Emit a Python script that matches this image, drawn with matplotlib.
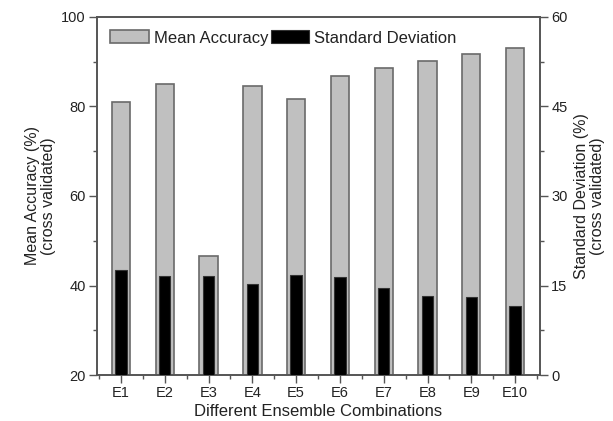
import matplotlib
matplotlib.use("Agg")
import matplotlib.pyplot as plt
from matplotlib.ticker import MultipleLocator
import numpy as np

categories = ["E1", "E2", "E3", "E4", "E5", "E6", "E7", "E8", "E9", "E10"]
mean_acc = [80.9, 84.9, 46.7, 84.6, 81.7, 86.9, 88.6, 90.2, 91.7, 93.1]
std_dev = [17.6, 16.6, 16.6, 15.3, 16.7, 16.4, 14.6, 13.3, 13.1, 11.6]

plt.rcParams['font.family'] = ['Liberation Sans', 'DejaVu Sans']
txt = '#222222'
spine_c = '#555555'

fig = plt.figure(figsize=(6.13, 4.21), dpi=100)
ax1 = fig.add_axes([0.158, 0.109, 0.723, 0.851])
ax2 = ax1.twinx()

x = np.arange(1, len(categories) + 1)
b1 = ax1.bar(x, mean_acc, width=0.42, bottom=0, color='#c0c0c0',
             edgecolor='#6a6a6a', linewidth=1.2, zorder=2)
ax1.set_ylim(20, 100)
ax1.set_xlim(0.45, 10.57)
b2 = ax2.bar(x, std_dev, width=0.26, color='black', edgecolor='#333333',
             linewidth=0.8, zorder=3)
ax2.set_ylim(0, 60)

ax1.set_xticks(x)
ax1.set_xticklabels(categories)
ax1.xaxis.set_minor_locator(MultipleLocator(0.5))
ax1.set_yticks([20, 40, 60, 80, 100])
ax1.yaxis.set_minor_locator(MultipleLocator(10))
ax2.set_yticks([0, 15, 30, 45, 60])
ax2.yaxis.set_minor_locator(MultipleLocator(7.5))

for ax in (ax1, ax2):
    for s in ax.spines.values():
        s.set_color(spine_c)
        s.set_linewidth(1.2)
    ax.tick_params(which='major', direction='out', length=5.5, width=1, color=spine_c,
                   labelsize=10.5, labelcolor=txt, pad=2.5)
    ax.tick_params(which='minor', direction='out', length=3, width=1, color=spine_c)
ax1.tick_params(axis='x', which='both', top=False)

ax1.set_xlabel("Different Ensemble Combinations", fontsize=12, color=txt, labelpad=3)
ax1.set_ylabel("Mean Accuracy (%)\n(cross validated)", fontsize=11.5, color=txt,
               labelpad=4, linespacing=1.05)
ax2.set_ylabel("Standard Deviation (%)\n(cross validated)", fontsize=11.5, color=txt,
               labelpad=5, linespacing=1.05)

leg = ax1.legend([b1, b2], ["Mean Accuracy", "Standard Deviation"], ncol=2,
                 loc='upper left', bbox_to_anchor=(0.0, 1.0), frameon=False,
                 fontsize=12, handlelength=2.3, handleheight=0.85,
                 columnspacing=0.15, handletextpad=0.3, borderaxespad=0.4)
for t in leg.get_texts():
    t.set_color(txt)
leg.set_zorder(10)

fig.savefig("out.png", dpi=100)
